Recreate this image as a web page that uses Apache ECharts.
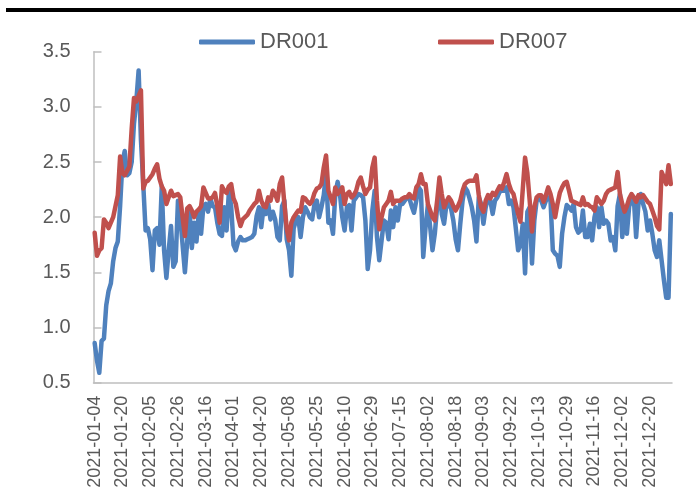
<!DOCTYPE html>
<html>
<head>
<meta charset="utf-8">
<script src="https://cdn.jsdelivr.net/npm/echarts@6/dist/echarts.min.js"></script>
<style>
html,body{margin:0;padding:0;background:#fff;}
#chart{width:696px;height:501px;}
</style>
</head>
<body>
<div id="chart"></div>
<script>
const categories = [
'2021-01-04','2021-01-05','2021-01-06','2021-01-07','2021-01-08','2021-01-11','2021-01-12','2021-01-13','2021-01-14','2021-01-15','2021-01-18','2021-01-19','2021-01-20','2021-01-21','2021-01-22','2021-01-25','2021-01-26','2021-01-27','2021-01-28','2021-01-29',
'2021-02-01','2021-02-02','2021-02-03','2021-02-04','2021-02-05','2021-02-07','2021-02-08','2021-02-09','2021-02-10','2021-02-18','2021-02-19','2021-02-20','2021-02-22','2021-02-23','2021-02-24','2021-02-25','2021-02-26',
'2021-03-01','2021-03-02','2021-03-03','2021-03-04','2021-03-05','2021-03-08','2021-03-09','2021-03-10','2021-03-11','2021-03-12','2021-03-15','2021-03-16','2021-03-17','2021-03-18','2021-03-19','2021-03-22','2021-03-23','2021-03-24','2021-03-25','2021-03-26','2021-03-29','2021-03-30','2021-03-31',
'2021-04-01','2021-04-02','2021-04-06','2021-04-07','2021-04-08','2021-04-09','2021-04-12','2021-04-13','2021-04-14','2021-04-15','2021-04-16','2021-04-19','2021-04-20','2021-04-21','2021-04-22','2021-04-23','2021-04-25','2021-04-26','2021-04-27','2021-04-28','2021-04-29','2021-04-30',
'2021-05-06','2021-05-07','2021-05-08','2021-05-10','2021-05-11','2021-05-12','2021-05-13','2021-05-14','2021-05-17','2021-05-18','2021-05-19','2021-05-20','2021-05-21','2021-05-24','2021-05-25','2021-05-26','2021-05-27','2021-05-28','2021-05-31',
'2021-06-01','2021-06-02','2021-06-03','2021-06-04','2021-06-07','2021-06-08','2021-06-09','2021-06-10','2021-06-11','2021-06-15','2021-06-16','2021-06-17','2021-06-18','2021-06-21','2021-06-22','2021-06-23','2021-06-24','2021-06-25','2021-06-28','2021-06-29','2021-06-30',
'2021-07-01','2021-07-02','2021-07-05','2021-07-06','2021-07-07','2021-07-08','2021-07-09','2021-07-12','2021-07-13','2021-07-14','2021-07-15','2021-07-16','2021-07-19','2021-07-20','2021-07-21','2021-07-22','2021-07-23','2021-07-26','2021-07-27','2021-07-28','2021-07-29','2021-07-30',
'2021-08-02','2021-08-03','2021-08-04','2021-08-05','2021-08-06','2021-08-09','2021-08-10','2021-08-11','2021-08-12','2021-08-13','2021-08-16','2021-08-17','2021-08-18','2021-08-19','2021-08-20','2021-08-23','2021-08-24','2021-08-25','2021-08-26','2021-08-27','2021-08-30','2021-08-31',
'2021-09-01','2021-09-02','2021-09-03','2021-09-06','2021-09-07','2021-09-08','2021-09-09','2021-09-10','2021-09-13','2021-09-14','2021-09-15','2021-09-16','2021-09-17','2021-09-18','2021-09-22','2021-09-23','2021-09-24','2021-09-26','2021-09-27','2021-09-28','2021-09-29','2021-09-30',
'2021-10-08','2021-10-09','2021-10-11','2021-10-12','2021-10-13','2021-10-14','2021-10-15','2021-10-18','2021-10-19','2021-10-20','2021-10-21','2021-10-22','2021-10-25','2021-10-26','2021-10-27','2021-10-28','2021-10-29',
'2021-11-01','2021-11-02','2021-11-03','2021-11-04','2021-11-05','2021-11-08','2021-11-09','2021-11-10','2021-11-11','2021-11-12','2021-11-15','2021-11-16','2021-11-17','2021-11-18','2021-11-19','2021-11-22','2021-11-23','2021-11-24','2021-11-25','2021-11-26','2021-11-29','2021-11-30',
'2021-12-01','2021-12-02','2021-12-03','2021-12-06','2021-12-07','2021-12-08','2021-12-09','2021-12-10','2021-12-13','2021-12-14','2021-12-15','2021-12-16','2021-12-17','2021-12-20','2021-12-21','2021-12-22','2021-12-23','2021-12-24','2021-12-27','2021-12-28','2021-12-29','2021-12-30','2021-12-31'
];

const dr001 = [
0.86,0.70,0.59,0.88,0.90,1.20,1.33,1.40,1.60,1.72,1.78,2.10,2.50,2.60,2.38,2.40,2.50,2.85,3.05,3.33,
2.70,2.30,1.88,1.90,1.80,1.52,1.88,1.90,1.75,2.28,1.70,1.45,1.70,1.92,1.55,1.60,2.15,2.00,1.75,1.50,
1.78,2.08,1.72,1.95,1.78,2.05,1.85,2.10,2.12,2.05,2.17,2.10,2.09,1.95,1.85,1.83,2.09,1.88,2.23,2.10,
1.75,1.70,1.78,1.82,1.79,1.79,1.80,1.81,1.82,1.85,2.01,2.09,1.91,2.09,2.03,2.12,1.98,2.05,1.98,1.82,
1.79,2.10,2.15,1.80,1.70,1.47,1.90,1.97,2.00,1.82,2.00,2.09,2.05,2.00,1.98,2.12,2.15,2.00,2.09,2.20,
2.40,1.95,1.97,1.85,2.21,2.32,2.21,2.00,1.88,2.09,2.11,1.88,2.15,2.18,2.21,2.20,2.18,1.97,1.53,1.70,
2.06,2.24,1.82,1.61,1.79,1.97,1.95,1.80,2.06,1.91,2.09,1.97,2.12,2.12,2.15,2.18,2.17,2.10,2.04,2.15,
2.27,2.24,1.64,1.91,2.11,1.91,1.70,1.85,2.09,2.26,2.03,1.94,2.11,2.12,2.08,1.97,1.80,1.70,1.94,2.15,
2.27,2.24,2.17,2.09,1.97,1.78,2.18,2.12,1.94,2.09,2.18,2.15,2.03,2.15,2.18,2.23,2.24,2.24,2.27,2.12,
2.15,2.09,1.90,1.70,1.75,1.94,1.49,2.05,2.09,1.58,1.97,2.15,2.17,2.15,2.09,2.15,2.18,2.15,1.70,1.67,
1.65,1.55,1.85,2.00,2.11,2.09,2.06,2.12,1.91,1.86,1.88,2.06,1.82,1.82,1.94,1.79,2.00,2.09,1.91,2.09,
1.94,1.97,1.94,1.79,1.82,1.70,2.10,2.21,1.82,2.06,1.85,2.10,2.15,2.17,1.82,2.12,2.21,2.12,2.05,1.88,
1.97,1.85,1.70,1.64,1.79,1.61,1.43,1.27,1.27,2.03
];

const dr007 = [
1.86,1.65,1.70,1.72,1.98,1.95,1.90,1.95,2.00,2.10,2.20,2.55,2.40,2.38,2.42,2.46,2.80,3.08,3.05,3.10,
3.15,2.26,2.32,2.33,2.36,2.39,2.44,2.48,2.35,2.28,2.24,2.12,2.18,2.24,2.19,2.20,2.21,2.18,2.00,1.83,
2.08,2.10,2.06,2.00,2.05,2.07,2.10,2.27,2.22,2.17,2.17,2.18,2.22,2.10,1.95,2.28,2.24,2.22,2.28,2.30,
2.17,2.12,2.00,1.92,1.98,2.00,2.02,2.06,2.09,2.12,2.14,2.24,2.15,2.10,2.09,2.18,2.15,2.24,2.21,2.15,
2.30,2.36,2.12,1.90,1.79,1.95,2.00,2.03,2.06,2.05,2.18,2.17,2.14,2.12,2.15,2.22,2.26,2.27,2.30,2.45,
2.56,2.24,2.18,2.12,2.27,2.21,2.24,2.27,2.12,2.21,2.23,2.18,2.20,2.24,2.32,2.36,2.28,2.21,2.25,2.27,
2.45,2.54,2.15,1.89,2.00,2.09,2.12,2.15,2.23,2.12,2.15,2.15,2.15,2.17,2.18,2.18,2.21,2.18,2.17,2.27,
2.30,2.39,2.30,2.30,2.12,2.06,2.00,1.97,2.15,2.36,2.21,2.09,2.14,2.18,2.15,2.10,2.06,2.10,2.15,2.24,
2.30,2.32,2.33,2.33,2.33,2.38,2.20,2.09,2.05,2.15,2.20,2.17,2.22,2.20,2.24,2.28,2.26,2.32,2.39,2.30,
2.24,2.21,2.12,2.03,1.96,2.25,2.54,2.40,2.15,1.87,2.09,2.18,2.20,2.20,2.14,2.20,2.27,2.21,2.12,2.00,
2.12,2.22,2.27,2.31,2.32,2.24,2.15,2.14,2.13,2.12,2.11,2.18,2.11,2.12,2.10,2.09,2.06,2.18,2.15,2.12,
2.15,2.21,2.24,2.25,2.26,2.27,2.41,2.21,2.12,2.05,2.10,2.17,2.21,2.18,2.14,2.20,2.18,2.20,2.17,2.14,
2.12,2.06,2.00,1.92,1.89,2.41,2.36,2.30,2.47,2.30
];

const yTicks = [0.5, 1.0, 1.5, 2.0, 2.5, 3.0, 3.5];

const chart = echarts.init(document.getElementById('chart'), null, {renderer: 'canvas'});
const FONT = 'Liberation Sans, Arial, sans-serif';
const TEXT = '#595959';
chart.setOption({
  animation: false,
  backgroundColor: '#ffffff',
  graphic: [{
    type: 'rect', left: 6, top: 8, shape: {width: 690, height: 4}, style: {fill: '#000000'}
  }],
  legend: [{
    data: ['DR001'], left: 194, top: 26, icon: 'roundRect', itemWidth: 56, itemHeight: 5,
    textStyle: {fontFamily: FONT, fontSize: 22, color: TEXT}
  }, {
    data: ['DR007'], left: 433, top: 26, icon: 'roundRect', itemWidth: 56, itemHeight: 5,
    textStyle: {fontFamily: FONT, fontSize: 22, color: TEXT}
  }],
  grid: {left: 93.5, right: 24, top: 51.7, bottom: 118.3, containLabel: false},
  xAxis: {
    type: 'category',
    data: categories,
    boundaryGap: true,
    axisLine: {lineStyle: {color: '#BFBFBF', width: 1.5}},
    axisTick: {show: false},
    axisLabel: {interval: 11, rotate: 90, margin: 13, fontFamily: FONT, fontSize: 18, color: TEXT},
    splitLine: {show: false}
  },
  yAxis: {
    type: 'value',
    min: yTicks[0], max: yTicks[yTicks.length - 1], interval: 0.5,
    axisLine: {show: true, lineStyle: {color: '#BFBFBF', width: 1.5}},
    axisTick: {show: true, inside: true, length: 8, lineStyle: {color: '#BFBFBF', width: 1.5}},
    axisLabel: {margin: 23, fontFamily: FONT, fontSize: 20, color: TEXT,
      formatter: v => v.toFixed(1)},
    splitLine: {show: false}
  },
  series: [{
    name: 'DR001', type: 'line', data: dr001, showSymbol: false, symbol: 'none',
    lineStyle: {color: '#4F81BD', width: 4.5, join: 'round', cap: 'round'},
    itemStyle: {color: '#4F81BD'}
  }, {
    name: 'DR007', type: 'line', data: dr007, showSymbol: false, symbol: 'none',
    lineStyle: {color: '#C0504D', width: 4.5, join: 'round', cap: 'round'},
    itemStyle: {color: '#C0504D'}
  }]
});
</script>
</body>
</html>
